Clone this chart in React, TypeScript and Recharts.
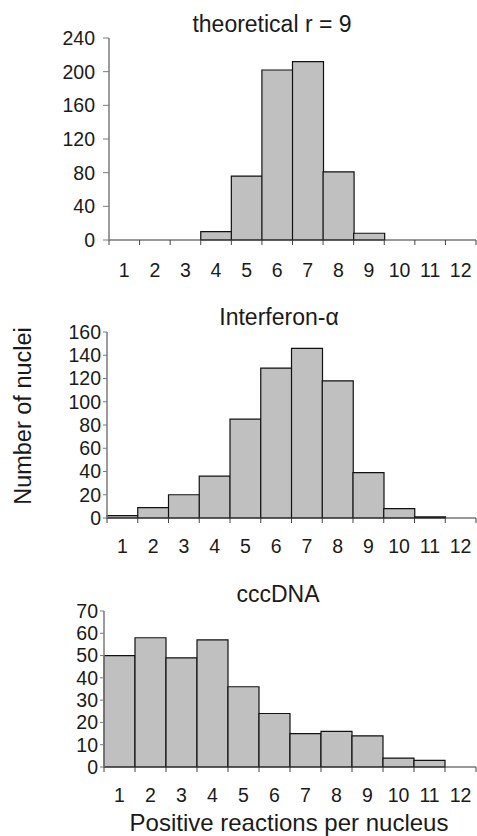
import React from 'react';
import { BarChart, Bar, XAxis, YAxis } from 'recharts';

const categories = ['1', '2', '3', '4', '5', '6', '7', '8', '9', '10', '11', '12'];
const theoreticalValues = [0, 0, 0, 10, 76, 202, 212, 81, 8, 0, 0, 0];
const interferonValues = [2, 9, 20, 36, 85, 129, 146, 118, 39, 8, 1, 0];
const cccdnaValues = [50, 58, 49, 57, 36, 24, 15, 16, 14, 4, 3, 0];
const theoreticalTicks = [0, 40, 80, 120, 160, 200, 240];
const interferonTicks = [0, 20, 40, 60, 80, 100, 120, 140, 160];
const cccdnaTicks = [0, 10, 20, 30, 40, 50, 60, 70];

const FONT = "'Liberation Sans', Arial, Helvetica, sans-serif";
const BOX = '#7a7a7a';
const W = 477;

type PanelProps = {
  values: number[];
  ticks: number[];
  top: number; // chart div top on page
  height: number;
  plotTop: number;
  plotBottom: number;
  plotLeft: number;
  plotRight: number;
  yTickSize: number;
  yTickMargin: number;
  labelOffset: number;
};

function Panel(p: PanelProps) {
  const data = categories.map((c, i) => ({ cat: c, v: p.values[i] }));
  const plotW = p.plotRight - p.plotLeft;
  const bw = plotW / categories.length;
  const marginTop = p.plotTop - p.top;
  const xAxisH = p.top + p.height - p.plotBottom;
  const max = p.ticks[p.ticks.length - 1];
  const XTick = (props: any) => {
    const { x, y, payload, index } = props;
    const last = index === categories.length - 1;
    return (
      <g>
        <line x1={x - bw / 2} x2={x - bw / 2} y1={y} y2={y + 5} stroke="#444" strokeWidth={1} />
        {last && <line x1={x + bw / 2} x2={x + bw / 2} y1={y} y2={y + 5} stroke="#444" strokeWidth={1} />}
        <text x={x} y={y + p.labelOffset} textAnchor="middle" fontSize={19.5} fontFamily={FONT} fill="#1a1a1a">
          {payload.value}
        </text>
      </g>
    );
  };
  return (
    <div style={{ position: 'absolute', left: 0, top: p.top, width: W, height: p.height }}>
      <BarChart
        width={W}
        height={p.height}
        data={data}
        margin={{ top: marginTop, right: W - p.plotRight, bottom: 0, left: 0 }}
        barCategoryGap={0}
        barGap={0}
      >
        <XAxis
          dataKey="cat"
          xAxisId="b"
          height={xAxisH}
          tickSize={0}
          tickMargin={0}
          interval={0}
          stroke="#333"
          axisLine={{ stroke: '#333', strokeWidth: 1.2 }}
          tick={<XTick />}
        />
        <XAxis dataKey="cat" xAxisId="t" orientation="top" height={0} tick={false} tickLine={false} axisLine={{ stroke: BOX, strokeWidth: 1.5 }} />
        <YAxis
          yAxisId="l"
          type="number"
          domain={[0, max]}
          ticks={p.ticks}
          interval={0}
          width={p.plotLeft}
          tickSize={p.yTickSize}
          tickMargin={p.yTickMargin}
          axisLine={{ stroke: BOX, strokeWidth: 1.5 }}
          tickLine={{ stroke: BOX }}
          tick={{ fontSize: 19.5, fontFamily: FONT, fill: '#1a1a1a' }}
        />
        <YAxis yAxisId="r" orientation="right" width={0} domain={[0, max]} tick={false} tickLine={false} axisLine={{ stroke: BOX, strokeWidth: 1.5 }} />
        <Bar dataKey="v" xAxisId="b" yAxisId="l" fill="#c0c0c0" stroke="#111" strokeWidth={1.2} isAnimationActive={false} />
      </BarChart>
    </div>
  );
}

export default function App() {
  return (
    <div style={{ position: 'absolute', left: 0, top: 0, width: W, height: 836, background: '#fff', overflow: 'hidden' }}>
      <Panel values={theoreticalValues} ticks={theoreticalTicks} top={0} height={290}
        plotTop={38} plotBottom={240} plotLeft={109} plotRight={476} yTickSize={6} yTickMargin={8} labelOffset={37} />
      <Panel values={interferonValues} ticks={interferonTicks} top={290} height={280}
        plotTop={332} plotBottom={518} plotLeft={107} plotRight={476} yTickSize={4} yTickMargin={2} labelOffset={35} />
      <Panel values={cccdnaValues} ticks={cccdnaTicks} top={570} height={240}
        plotTop={611} plotBottom={767} plotLeft={104} plotRight={476} yTickSize={4} yTickMargin={2} labelOffset={35} />
      <svg width={W} height={836} style={{ position: 'absolute', left: 0, top: 0, pointerEvents: 'none' }}>
        <text x={272} y={31.5} textAnchor="middle" fontSize={23} fontFamily={FONT} fill="#1a1a1a">theoretical r = 9</text>
        <text x={279} y={325} textAnchor="middle" fontSize={23} fontFamily={FONT} fill="#1a1a1a">Interferon-α</text>
        <text x={278} y={602} textAnchor="middle" fontSize={23} fontFamily={FONT} fill="#1a1a1a">cccDNA</text>
        <text x={31} y={416} transform="rotate(-90 31 416)" textAnchor="middle" fontSize={23.5} fontFamily={FONT} fill="#1a1a1a">Number of nuclei</text>
        <text x={289} y={831} textAnchor="middle" fontSize={24} fontFamily={FONT} fill="#1a1a1a">Positive reactions per nucleus</text>
      </svg>
    </div>
  );
}
